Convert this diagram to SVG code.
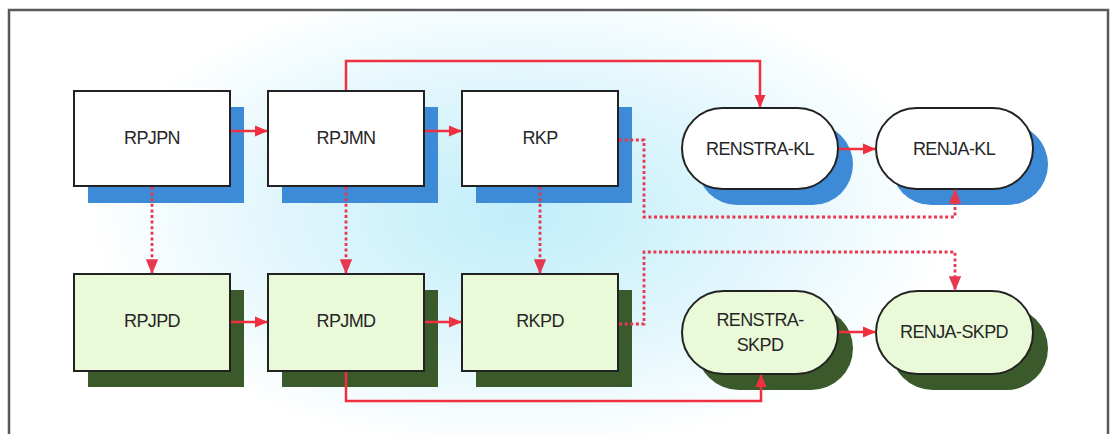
<svg xmlns="http://www.w3.org/2000/svg" width="1110" height="434" viewBox="0 0 1110 434">
<defs>
<radialGradient id="bg" cx="520" cy="215" r="430" gradientUnits="userSpaceOnUse" gradientTransform="translate(520 215) scale(1 0.55) translate(-520 -215)">
<stop offset="0" stop-color="#c0eefa"/>
<stop offset="0.55" stop-color="#e0f6fc"/>
<stop offset="1" stop-color="#ffffff"/>
</radialGradient>
<marker id="ah" viewBox="0 0 12 10" refX="11" refY="5" markerWidth="5.4" markerHeight="4.6" orient="auto" markerUnits="strokeWidth">
<path d="M0,0 L12,5 L0,10 z" fill="#f0303f"/>
</marker>
<marker id="ahd" viewBox="0 0 12 10" refX="11" refY="5" markerWidth="5.4" markerHeight="4.6" orient="auto" markerUnits="strokeWidth">
<path d="M0,0 L12,5 L0,10 z" fill="#e8384f"/>
</marker>
</defs>
<style>
.frame{fill:url(#bg);stroke:#5a5a5a;stroke-width:2.5}
.box{stroke:#222;stroke-width:2}
.wb{fill:#ffffff}
.gb{fill:#eafad8}
.bs{fill:#3d8ad6}
.gs{fill:#3b5a2c}
.t{font-family:"Liberation Sans",Arial,sans-serif;font-size:18px;fill:#262626;text-anchor:middle;dominant-baseline:central;letter-spacing:-0.6px}
.s{fill:none;stroke:#f0303f;stroke-width:2.5}
.d{fill:none;stroke:#e8384f;stroke-width:2.8;stroke-dasharray:3 2.6}
</style>
<rect class="frame" x="9" y="10" width="1099" height="440"/>
<g id="RPJPN"><rect class="bs" x="88" y="107" width="156" height="96"/><rect class="box wb" x="74" y="91" width="156" height="95"/><text class="t" x="152" y="138">RPJPN</text></g>
<g id="RPJMN"><rect class="bs" x="282" y="107" width="156" height="96"/><rect class="box wb" x="268" y="91" width="156" height="95"/><text class="t" x="346" y="138">RPJMN</text></g>
<g id="RKP"><rect class="bs" x="476" y="107" width="156" height="96"/><rect class="box wb" x="462" y="91" width="156" height="95"/><text class="t" x="540" y="138">RKP</text></g>
<g id="RENSTRA-KL"><rect class="bs" x="697" y="124" width="156" height="81" rx="40.5"/><rect class="box wb" x="682" y="108" width="156" height="81" rx="40.5"/><text class="t" x="760" y="149">RENSTRA-KL</text></g>
<g id="RENJA-KL"><rect class="bs" x="891" y="124" width="157" height="81" rx="40.5"/><rect class="box wb" x="876" y="108" width="157" height="81" rx="40.5"/><text class="t" x="954" y="149">RENJA-KL</text></g>
<g id="RPJPD"><rect class="gs" x="88" y="290" width="156" height="97"/><rect class="box gb" x="74" y="274" width="156" height="97"/><text class="t" x="152" y="321">RPJPD</text></g>
<g id="RPJMD"><rect class="gs" x="282" y="290" width="156" height="97"/><rect class="box gb" x="268" y="274" width="156" height="97"/><text class="t" x="346" y="321">RPJMD</text></g>
<g id="RKPD"><rect class="gs" x="476" y="290" width="156" height="97"/><rect class="box gb" x="462" y="274" width="156" height="97"/><text class="t" x="540" y="321">RKPD</text></g>
<g id="RENSTRA-SKPD"><rect class="gs" x="697" y="307" width="156" height="83" rx="41.5"/><rect class="box gb" x="682" y="291" width="156" height="83" rx="41.5"/><text class="t" x="760" y="320">RENSTRA-</text><text class="t" x="760" y="345">SKPD</text></g>
<g id="RENJA-SKPD"><rect class="gs" x="891" y="307" width="157" height="83" rx="41.5"/><rect class="box gb" x="876" y="291" width="157" height="83" rx="41.5"/><text class="t" x="954" y="332">RENJA-SKPD</text></g>
<g id="connectors">
<path class="s" d="M346,90 V61 H760 V107" marker-end="url(#ah)"/>
<path class="s" d="M346,372 V401 H761 V375" marker-end="url(#ah)"/>
<path class="s" d="M231,131 H267" marker-end="url(#ah)"/>
<path class="s" d="M425,131 H461" marker-end="url(#ah)"/>
<path class="s" d="M231,322 H267" marker-end="url(#ah)"/>
<path class="s" d="M425,322 H461" marker-end="url(#ah)"/>
<path class="s" d="M839,149 H875" marker-end="url(#ah)"/>
<path class="s" d="M839,332 H875" marker-end="url(#ah)"/>
<path class="d" d="M152,187 V273" marker-end="url(#ahd)"/>
<path class="d" d="M346,187 V273" marker-end="url(#ahd)"/>
<path class="d" d="M540,187 V273" marker-end="url(#ahd)"/>
<path class="d" d="M619,140 H644 V217 H955 V190" marker-end="url(#ahd)"/>
<path class="d" d="M619,324 H644 V252 H955 V290" marker-end="url(#ahd)"/>
</g>
</svg>
